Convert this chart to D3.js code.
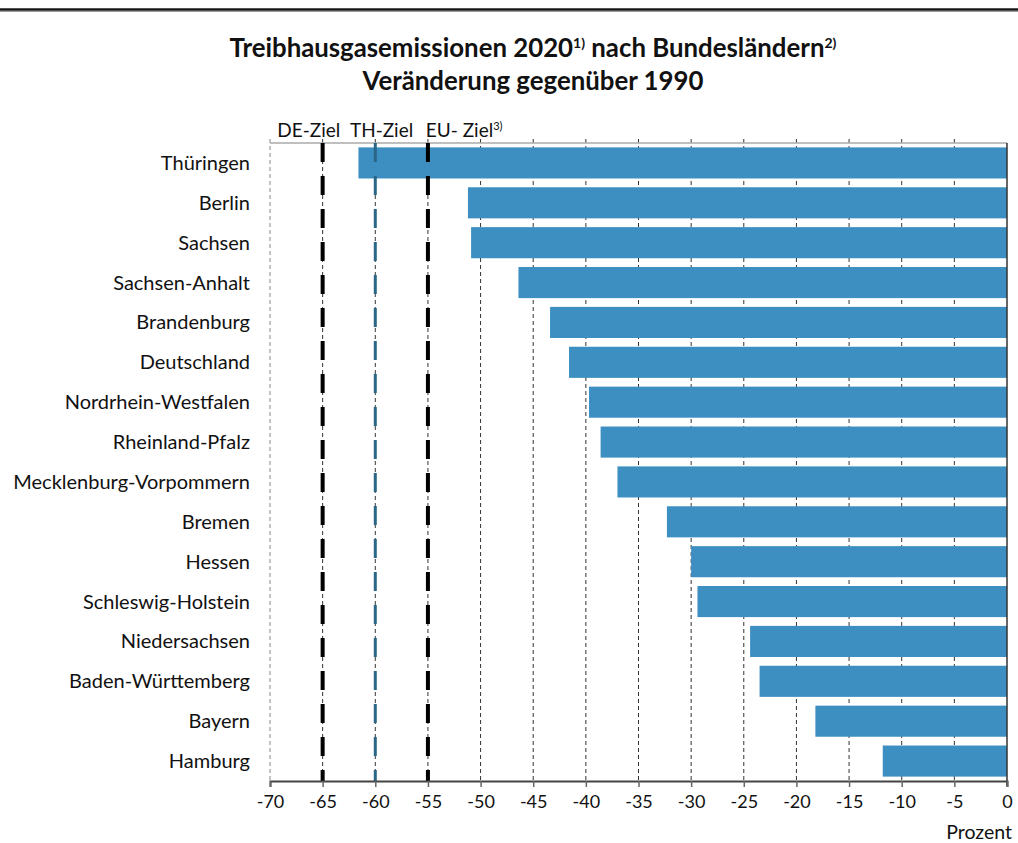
<!DOCTYPE html>
<html>
<head>
<meta charset="utf-8">
<script src="https://cdn.jsdelivr.net/npm/d3@7"></script>
<style>
  body { margin: 0; background: #fff; }
  text { font-family: Lato, "Open Sans", sans-serif; fill: #111; }
</style>
</head>
<body>
<svg width="1018" height="843"></svg>
<script>
// The svg
var svg = d3.select("svg"),
  width = +svg.attr("width"),
  height = +svg.attr("height");

// Data
var laender = ["Thüringen", "Berlin", "Sachsen", "Sachsen-Anhalt", "Brandenburg", "Deutschland",
  "Nordrhein-Westfalen", "Rheinland-Pfalz", "Mecklenburg-Vorpommern", "Bremen", "Hessen",
  "Schleswig-Holstein", "Niedersachsen", "Baden-Württemberg", "Bayern", "Hamburg"];
var veraenderung = [-61.6, -51.2, -50.9, -46.4, -43.4, -41.6, -39.7, -38.6, -37.0, -32.3,
  -30.0, -29.4, -24.4, -23.5, -18.2, -11.8];
var xTicks = [-70, -65, -60, -55, -50, -45, -40, -35, -30, -25, -20, -15, -10, -5, 0];
var zielNamen = ["DE-Ziel", "TH-Ziel", "EU- Ziel"];
var zielWerte = [-65, -60, -55];

var margin = { top: 143, right: 11, bottom: 62, left: 270 };
var iw = width - margin.left - margin.right,
  ih = height - margin.top - margin.bottom;

var x = d3.scaleLinear().domain([-70, 0]).range([0, iw]);
var y = d3.scaleBand().domain(laender).range([0, ih]).paddingInner(0.22).paddingOuter(0.11);

// top rule
svg.append("line").attr("x1", 0).attr("x2", width).attr("y1", 10).attr("y2", 10)
  .attr("stroke", "#999").attr("stroke-width", 4);
svg.append("line").attr("x1", 0).attr("x2", width).attr("y1", 9.5).attr("y2", 9.5)
  .attr("stroke", "#111").attr("stroke-width", 2);

// title
svg.append("text").attr("x", 533).attr("y", 57).attr("text-anchor", "middle")
  .style("font-size", "25.8px").style("font-weight", "bold")
  .html('Treibhausgasemissionen 2020<tspan dy="-9" font-size="14px">1)</tspan><tspan dy="9"> nach Bundesländern</tspan><tspan dy="-9" font-size="14px">2)</tspan>');
svg.append("text").attr("x", 533).attr("y", 90).attr("text-anchor", "middle")
  .style("font-size", "25.8px").style("font-weight", "bold")
  .text("Veränderung gegenüber 1990");

var g = svg.append("g").attr("transform", "translate(" + margin.left + "," + margin.top + ")");

// grid
g.selectAll(".grid").data(xTicks.slice(0, -1)).enter().append("line")
  .attr("x1", function (d) { return x(d); }).attr("x2", function (d) { return x(d); })
  .attr("y1", -4).attr("y2", ih)
  .attr("stroke", function (d) { return d === -70 ? "#888" : "#333"; })
  .attr("stroke-width", 1).attr("stroke-dasharray", "4,3");

// top border
g.append("line").attr("x1", 0).attr("x2", iw).attr("y1", 0).attr("y2", 0)
  .attr("stroke", "#aaa").attr("stroke-width", 1.5);

// bars
g.selectAll(".bar").data(laender).enter().append("rect")
  .attr("x", function (d, i) { return x(veraenderung[i]); })
  .attr("y", function (d) { return y(d); })
  .attr("width", function (d, i) { return x(0) - x(veraenderung[i]); })
  .attr("height", y.bandwidth())
  .attr("fill", "#3d8fc2");

// target lines
var zielFarben = ["#000", "#2a6688", "#000"];
g.selectAll(".ziel").data(zielWerte).enter().append("line")
  .attr("x1", function (d) { return x(d); }).attr("x2", function (d) { return x(d); })
  .attr("y1", 0).attr("y2", ih)
  .attr("stroke", function (d, i) { return zielFarben[i]; })
  .attr("stroke-width", function (d, i) { return i === 1 ? 3 : 4; })
  .attr("stroke-dasharray", "19,14");

// target labels
var labelX = [-69.3, -62.4, -55.2];
g.selectAll(".zielLabel").data(zielNamen).enter().append("text")
  .attr("x", function (d, i) { return x(labelX[i]); })
  .attr("y", -6).attr("text-anchor", "start")
  .style("font-size", "19px")
  .html(function (d, i) { return i === 2 ? d + '<tspan dy="-7" font-size="11px">3)</tspan>' : d; });

// y labels
g.selectAll(".ylab").data(laender).enter().append("text")
  .attr("x", -20).attr("y", function (d) { return y(d) + y.bandwidth() / 2; })
  .attr("dy", "0.35em").attr("text-anchor", "end")
  .style("font-size", "20px")
  .text(function (d) { return d; });

// right edge
g.append("line").attr("x1", iw).attr("x2", iw).attr("y1", 0).attr("y2", ih + 5)
  .attr("stroke", "#333").attr("stroke-width", 1.5);

// x axis
var xAxis = g.append("g").attr("transform", "translate(0," + ih + ")")
  .call(d3.axisBottom(x).tickValues(xTicks).tickSize(6).tickPadding(8)
    .tickFormat(function (d) { return d; }));
xAxis.select(".domain").attr("stroke", "#444").attr("stroke-width", 2);
xAxis.selectAll(".tick line").attr("stroke", "#666").attr("stroke-width", 1.5);
xAxis.selectAll(".tick text").style("font-size", "18px").style("font-family", "Lato, sans-serif").attr("fill", "#111");

svg.append("text").attr("x", 1012).attr("y", 839).attr("text-anchor", "end")
  .style("font-size", "19.5px").text("Prozent");
</script>
</body>
</html>
